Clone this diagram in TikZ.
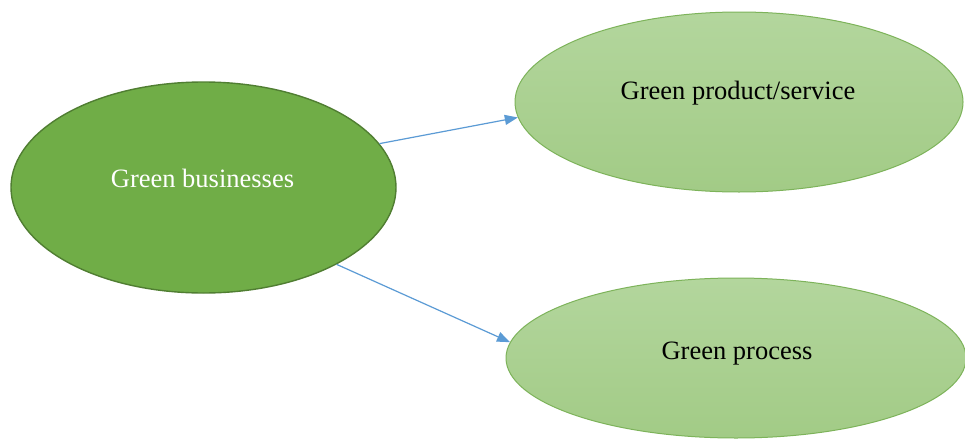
\documentclass[tikz,border=0pt]{standalone}
\usepackage{fontspec}
\setmainfont{Liberation Serif}
\usetikzlibrary{arrows.meta,shapes.geometric}
\definecolor{darkfill}{HTML}{70AD47}
\definecolor{darkline}{HTML}{507E32}
\definecolor{lighttop}{HTML}{B3D69D}
\definecolor{lightbot}{HTML}{A2CB86}
\definecolor{lightline}{HTML}{7DB35A}
\definecolor{arrowblue}{HTML}{5B9BD5}
\tikzset{
  bigell/.style={ellipse, draw=darkline, line width=1.4pt, fill=darkfill, inner sep=0pt},
  smallell/.style={ellipse, draw=lightline, line width=1pt, top color=lighttop, bottom color=lightbot, inner sep=0pt},
  lbl/.style={anchor=base, font=\fontsize{26.5}{30}\selectfont, inner sep=0pt},
  conn/.style={draw=arrowblue, line width=1.2pt, -{Triangle[length=13pt,width=10pt]}}
}
\begin{document}
\begin{tikzpicture}[x=1pt,y=-1pt]
\useasboundingbox (0,0) rectangle (965,439);
\fill[white] (0,0) rectangle (965,439);
\node[bigell, minimum width=385pt, minimum height=211pt] (gb) at (203.5,187.5) {};
\node[smallell, minimum width=448pt, minimum height=180pt] (gps) at (739,102) {};
\node[smallell, minimum width=460pt, minimum height=160pt] (gp) at (736,358) {};
\node[lbl, text=white] (tgb) at (202.5,187) {Green businesses};
\node[lbl, text=black] (tgps) at (738,99) {Green product/service};
\node[lbl, text=black] (tgp) at (737,359) {Green process};
\draw[conn] (gb.14.5) -- (gps.184);
\draw[conn] (gb.-30) -- (gp.176);
\end{tikzpicture}
\end{document}
